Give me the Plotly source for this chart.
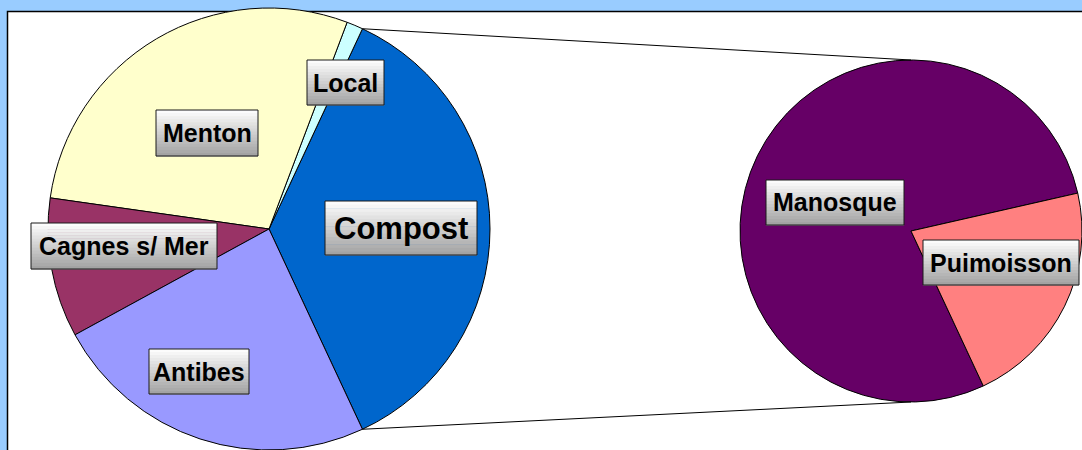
import math
import plotly.graph_objects as go

# ---- data ----
main_labels = ["Local", "Menton", "Cagnes s/ Mer", "Antibes"]
main_values = [1.2, 28.5, 10.2, 24.0]
sub_labels = ["Manosque", "Puimoisson"]
sub_values = [28.3, 7.8]
other_label = "Compost"

main_colors = ["#CCFFFF", "#FFFFCC", "#993366", "#9999FF"]
other_color = "#0066CC"
sub_colors = ["#660066", "#FF8080"]

# ---- geometry (pixels) ----
W, H = 1082, 450
cxL, cyL, rL = 269, 229, 221
cxR, cyR, rR = 911, 231, 171


def px(x):
    return x / W


def py(y):
    return 1 - y / H


compost_value = sum(sub_values)
pie1_labels = [other_label] + main_labels
pie1_values = [compost_value] + main_values
pie1_colors = [other_color] + main_colors
total = sum(pie1_values)
half_deg = 180.0 * compost_value / total

fig = go.Figure()

# main pie: "Compost" slice centred on the right (3 o'clock)
fig.add_trace(go.Pie(
    labels=pie1_labels, values=pie1_values, sort=False,
    direction="counterclockwise", rotation=90 - half_deg,
    marker=dict(colors=pie1_colors, line=dict(color="#000000", width=1)),
    textinfo="none", hoverinfo="label+value", showlegend=False,
    domain=dict(x=[px(cxL - rL), px(cxL + rL)], y=[py(cyL + rL), py(cyL - rL)]),
))

# secondary pie: breakdown of "Compost"
fig.add_trace(go.Pie(
    labels=sub_labels, values=sub_values, sort=False,
    direction="counterclockwise", rotation=90 + half_deg,
    marker=dict(colors=sub_colors, line=dict(color="#000000", width=1)),
    textinfo="none", hoverinfo="label+value", showlegend=False,
    domain=dict(x=[px(cxR - rR), min(1.0, px(cxR + rR))], y=[py(cyR + rR), py(cyR - rR)]),
))

shapes = []
# white plot area with dark frame
shapes.append(dict(type="rect", xref="paper", yref="paper",
                   x0=px(7.5), x1=1.05, y0=-0.05, y1=py(11.5),
                   fillcolor="#FFFFFF", line=dict(color="#000000", width=1.5),
                   layer="below"))
# connector lines
h = math.radians(half_deg)
top_pt = (cxL + rL * math.cos(h), cyL - rL * math.sin(h))
bot_pt = (cxL + rL * math.cos(h), cyL + rL * math.sin(h))
shapes.append(dict(type="line", xref="paper", yref="paper",
                   x0=px(top_pt[0]), y0=py(top_pt[1]), x1=px(cxR), y1=py(cyR - rR),
                   line=dict(color="#000000", width=1)))
shapes.append(dict(type="line", xref="paper", yref="paper",
                   x0=px(bot_pt[0]), y0=py(bot_pt[1]), x1=px(cxR), y1=py(cyR + rR),
                   line=dict(color="#000000", width=1)))

# label boxes (x0, y0, x1, y1 in pixels) and font sizes
label_box = {
    "Local": (307, 60, 384, 105, 25),
    "Menton": (156, 110, 258, 156, 25),
    "Compost": (325, 201, 477, 255, 31),
    "Cagnes s/ Mer": (31, 223, 217, 269, 25),
    "Antibes": (149, 349, 249, 394, 25),
    "Manosque": (766, 180, 904, 225, 25),
    "Puimoisson": (923, 240, 1079, 285, 25),
}

annotations = []
n_strips = 15
top_rgb = (255, 255, 255)
bot_rgb = (160, 160, 160)
for name in pie1_labels + sub_labels:
    x0, y0, x1, y1, s = label_box[name]
    step = (y1 - y0) / n_strips
    for k in range(n_strips):
        t = (k + 0.5) / n_strips
        c = tuple(int(round(a + (b - a) * t)) for a, b in zip(top_rgb, bot_rgb))
        shapes.append(dict(type="rect", xref="paper", yref="paper",
                           x0=px(x0), x1=px(x1),
                           y0=py(y0 + (k + 1) * step + 0.5), y1=py(y0 + k * step),
                           fillcolor="rgb(%d,%d,%d)" % c, line=dict(width=0),
                           layer="above"))
    shapes.append(dict(type="rect", xref="paper", yref="paper",
                       x0=px(x0), x1=px(x1), y0=py(y1), y1=py(y0),
                       line=dict(color="#1A1A1A", width=1), layer="above"))
    annotations.append(dict(
        text="<b>" + name + "</b>", x=px((x0 + x1) / 2), y=py((y0 + y1) / 2),
        xref="paper", yref="paper",
        xanchor="center", yanchor="middle", showarrow=False,
        font=dict(family="Liberation Sans, Arial, sans-serif", size=s, color="#000000"),
    ))

fig.update_layout(
    width=W, height=H, margin=dict(l=0, r=0, t=0, b=0),
    paper_bgcolor="#99CCFF", plot_bgcolor="#FFFFFF",
    shapes=shapes, annotations=annotations,
)

fig.write_html("out.html")
